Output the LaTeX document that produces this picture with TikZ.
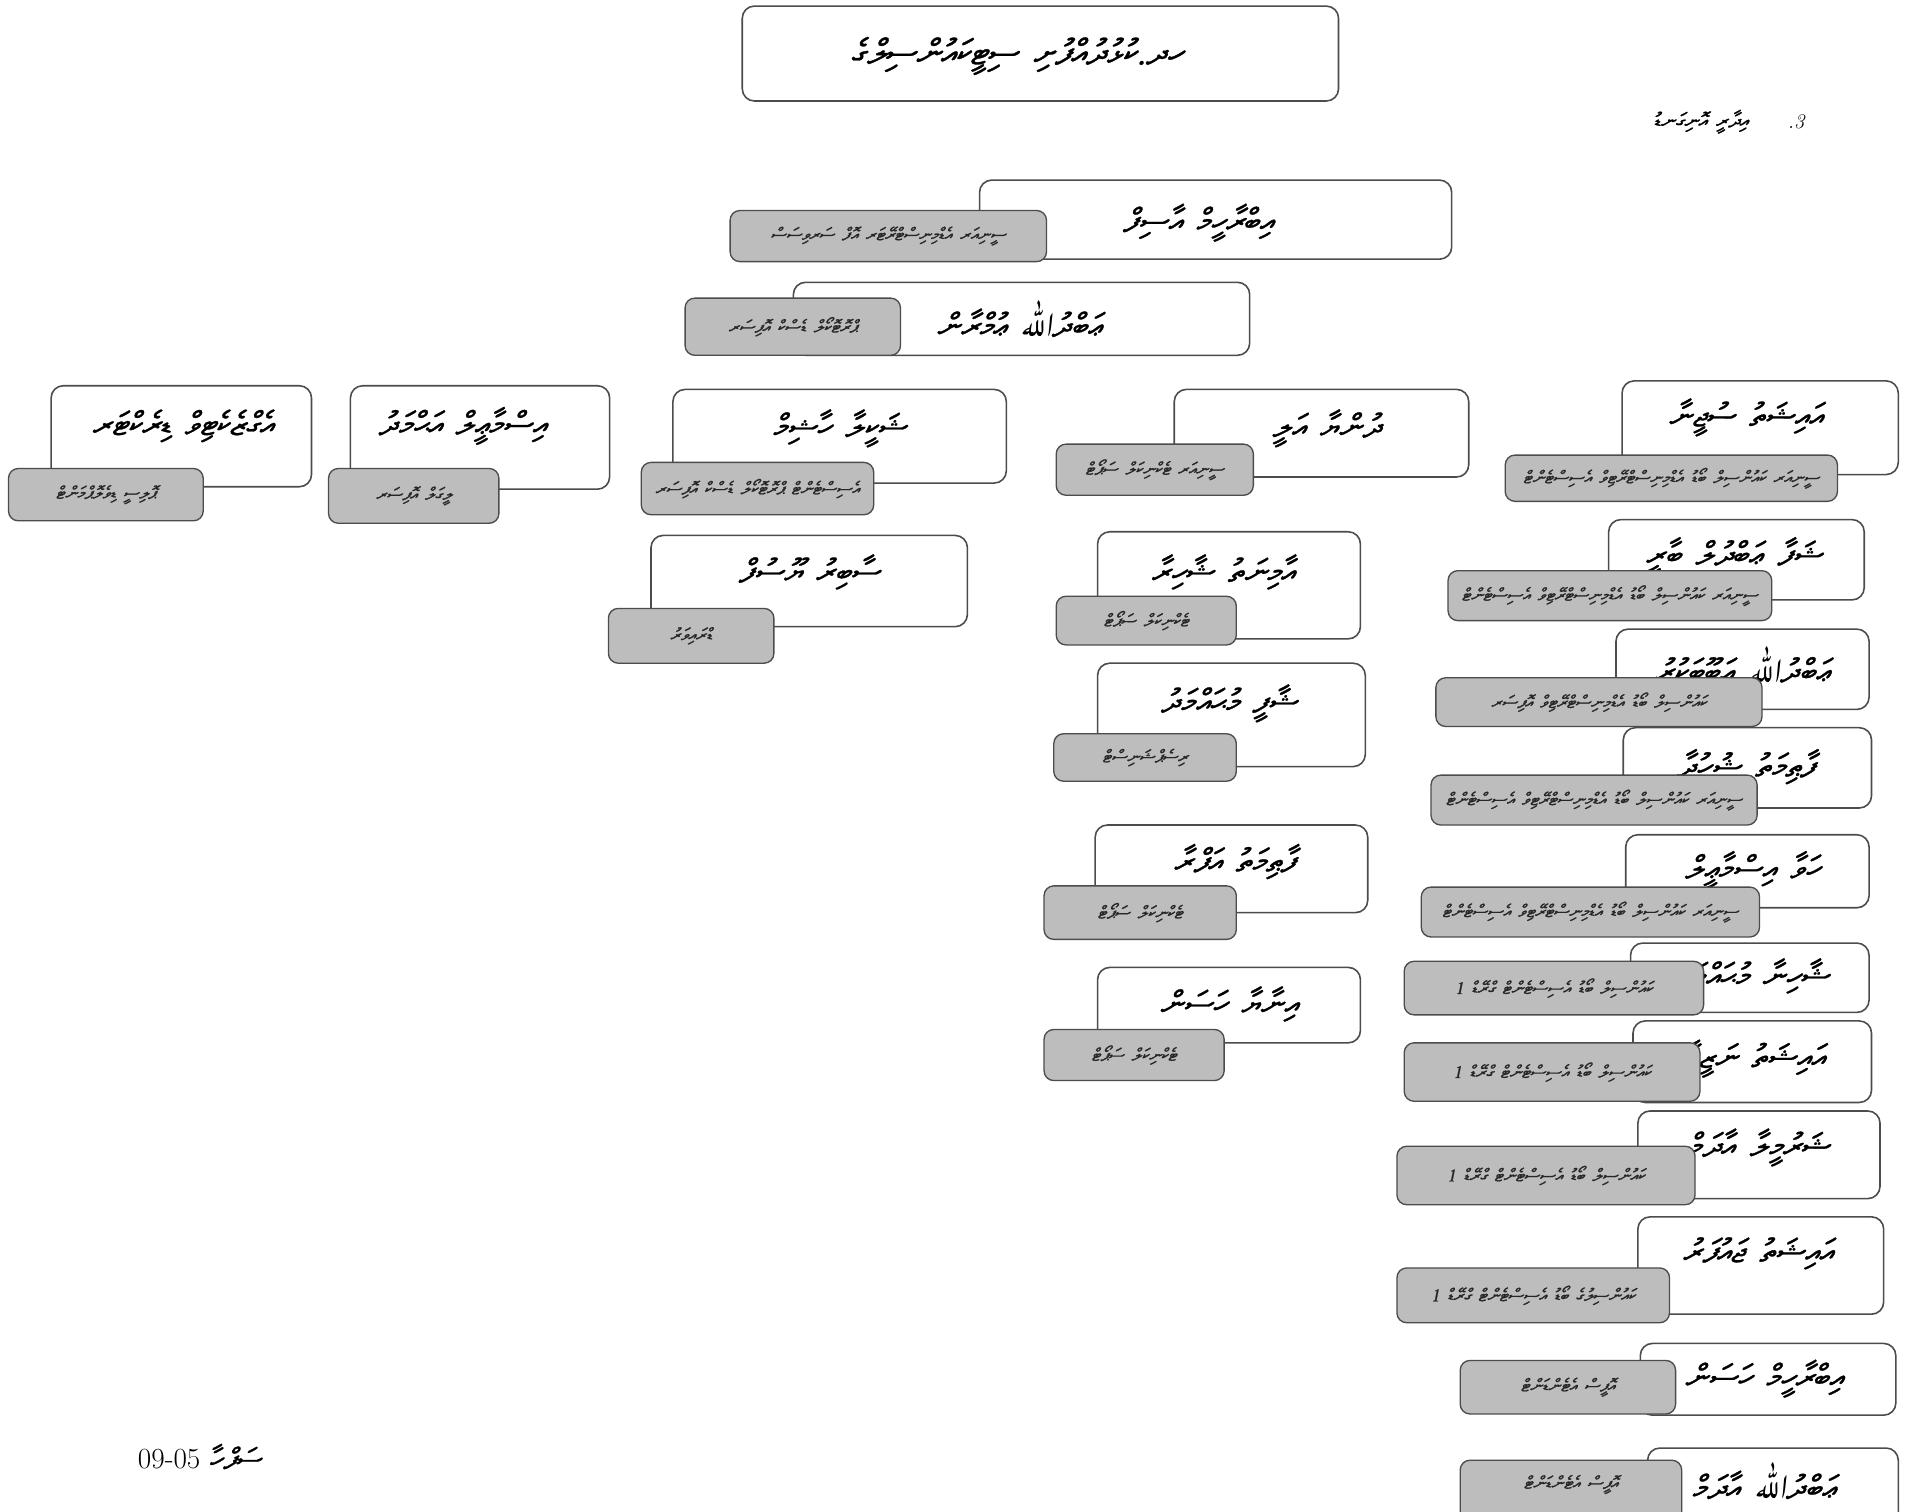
\documentclass[tikz,border=0pt]{standalone}
\usepackage{fontspec}
\usetikzlibrary{arrows.meta,backgrounds}
\TeXXeTstate=1
\IfFontExistsTF{FreeSerif}{%
  \newfontfamily\thaana[Script=Thaana,FakeSlant=0.2,FakeBold=0.9]{FreeSerif}}{%
  \IfFontExistsTF{FreeSerif.otf}{%
    \newfontfamily\thaana[Script=Thaana,FakeSlant=0.2,FakeBold=0.9]{FreeSerif.otf}}{%
    \newfontfamily\thaana[FakeSlant=0.2]{DejaVu Sans}}}
\IfFontExistsTF{Amiri-Regular.ttf}{%
  \newfontfamily\arabicfont[Script=Arabic,FakeSlant=0.2]{Amiri-Regular.ttf}
  \newcommand\allah{{\arabicfont ﷲ}}}{%
  \IfFontExistsTF{Amiri}{%
    \newfontfamily\arabicfont[Script=Arabic,FakeSlant=0.2]{Amiri}
    \newcommand\allah{{\arabicfont ﷲ}}}{%
    \newfontfamily\arabicfont[Script=Arabic,FakeSlant=0.2]{DejaVu Sans}
    \newcommand\allah{{\arabicfont الله}}}}

% Thaana runs right to left, words set apart a little
\makeatletter
\def\rtl@sep{\hspace{0.42em}}
\newcommand\rtl[1]{\beginR\rtl@a#1 \rtl@end\endR}
\def\rtl@a#1 #2\rtl@end{\mbox{\beginR#1\endR}\if\relax\detokenize{#2}\relax\else\rtl@sep\rtl@a#2\rtl@end\fi}
\makeatother

\tikzset{
  namebox/.style={draw=black!70, line width=1.3pt, rounded corners=10pt, fill=white, inner sep=0pt},
  rankbox/.style={draw=black!70, line width=1.1pt, rounded corners=8pt, fill=black!26, inner sep=0pt,
    text=black!85, font=\thaana\fontsize{14.5}{16}\selectfont},
  who/.style={inner sep=0pt, font=\thaana\fontsize{27}{30}\selectfont},
  link/.style={draw=black!65, line width=1pt},
  arr/.style={link, -{Triangle[length=13pt,width=10pt]}}
}

\begin{document}
\begin{tikzpicture}[x=1pt,y=-1pt]
\fill[white] (0,0) rectangle (1568,1242);
\clip (0,0) rectangle (1568,1242);

% top of the chart
\node[namebox, minimum width=490, minimum height=78] (top) at (855,44) {};
\node[who, font=\thaana\fontsize{29}{34}\selectfont] (topt) at (836,46) {\rtl{ހދ.ކުޅުދުއްފުށި ސިޓީކައުންސިލްގެ}};
\node[inner sep=0pt, font=\thaana\fontsize{17}{20}\selectfont] (note) at (1398,100) {\rtl{އިދާރީ އޮނިގަނޑު}};
\node[inner sep=0pt, font=\fontsize{17}{20}\selectfont\itshape] (noten) at (1476,100) {.3};

\node[namebox, minimum width=388, minimum height=65] (ibrahim) at (999,180.5) {};
\node[who] (ibrahimt) at (985,183) {\rtl{އިބްރާހީމް އާސިފް}};
\node[rankbox, minimum width=260, minimum height=42] (ibrahimr) at (730,194) {\rtl{ސީނިއަރ އެޑްމިނިސްޓްރޭޓަރ އޮފް ސަރވިސަސް}};

\node[namebox, minimum width=375, minimum height=60] (abdulla) at (839.5,262) {};
\node[who] (abdullat) at (838,262) {\rtl{ޢަބްދު\allah{} ޢުމްރާން}};
\node[rankbox, minimum width=177, minimum height=47] (abdullar) at (651.5,268.5) {\rtl{ޕްރޮޓޮކޯލް ޑެސްކް އޮފިސަރ}};

% first row
\node[namebox, minimum width=214, minimum height=83] (exec) at (149,358.5) {};
\node[who] (exect) at (150,350) {\rtl{އެގްޒެކެޓިވް ޑިރެކްޓަރ}};
\node[rankbox, minimum width=160, minimum height=43] (execr) at (87,406.5) {\rtl{ޕޮލިސީ ޑިވެލޮޕްމަންޓް}};

\node[namebox, minimum width=213, minimum height=85] (ismail) at (394.5,359.5) {};
\node[who] (ismailt) at (380,350) {\rtl{އިސްމާޢީލް އަޙްމަދު}};
\node[rankbox, minimum width=140, minimum height=45] (ismailr) at (340,407.5) {\rtl{ލީގަލް އޮފިސަރ}};

\node[namebox, minimum width=274, minimum height=77] (shakeela) at (690,358.5) {};
\node[who] (shakeelat) at (690,352) {\rtl{ޝަކީލާ ހާޝިމް}};
\node[rankbox, minimum width=191, minimum height=43] (shakeelar) at (622.5,401.5) {\rtl{އެސިސްޓެންޓް ޕްރޮޓޮކޯލް ޑެސްކް އޮފިސަރ}};

\node[namebox, minimum width=260, minimum height=75] (saabir) at (665,477.5) {};
\node[who] (saabirt) at (665,470) {\rtl{ސާބިރު ޔޫސުފް}};
\node[rankbox, minimum width=136, minimum height=45] (saabirr) at (568,522.5) {\rtl{ޑްރައިވަރު}};

% middle column
\node[namebox, minimum width=242, minimum height=72] (dhunya) at (1086,356) {};
\node[who] (dhunyat) at (1090,352) {\rtl{ދުންޔާ އަލީ}};
\node[rankbox, minimum width=162, minimum height=42] (dhunyar) at (949,386) {\rtl{ސީނިއަރ ޓެކްނިކަލް ސަޕޯޓް}};

\node[namebox, minimum width=216, minimum height=88] (aminath) at (1010,481) {};
\node[who] (aminatht) at (1005,470) {\rtl{އާމިނަތު ޝާހިރާ}};
\node[rankbox, minimum width=148, minimum height=40] (aminathr) at (942,510) {\rtl{ޓެކްނިކަލް ސަޕޯޓް}};

\node[namebox, minimum width=220, minimum height=85] (shaafee) at (1012,587.5) {};
\node[who] (shaafeet) at (1010,578) {\rtl{ޝާފީ މުޙައްމަދު}};
\node[rankbox, minimum width=150, minimum height=39] (shaafeer) at (941,622.5) {\rtl{ރިސެޕްޝަނިސްޓް}};

\node[namebox, minimum width=224, minimum height=72] (fathimath) at (1012,714) {};
\node[who] (fathimatht) at (1015,708) {\rtl{ފާޠިމަތު އަފްރާ}};
\node[rankbox, minimum width=158, minimum height=44] (fathimathr) at (937,750) {\rtl{ޓެކްނިކަލް ސަޕޯޓް}};

\node[namebox, minimum width=216, minimum height=62] (inaaya) at (1010,826) {};
\node[who] (inaayat) at (1010,825) {\rtl{އިނާޔާ ހަސަން}};
\node[rankbox, minimum width=148, minimum height=42] (inaayar) at (932,867) {\rtl{ޓެކްނިކަލް ސަޕޯޓް}};

% right column
\node[namebox, minimum width=227, minimum height=77] (aishath) at (1446.5,351.5) {};
\node[who] (aishatht) at (1435,343) {\rtl{އައިޝަތު ސުޖީނާ}};
\node[rankbox, minimum width=273, minimum height=38] (aishathr) at (1373.5,393) {\rtl{ސީނިއަރ ކައުންސިލް ބޯޑު އެޑްމިނިސްޓްރޭޓިވް އެސިސްޓެންޓް}};

\node[namebox, minimum width=210, minimum height=66] (shafaa) at (1427,460) {};
\node[who] (shafaat) at (1425,457) {\rtl{ޝަފާ ޢަބްދުލް ބާރީ}};
\node[rankbox, minimum width=266, minimum height=41] (shafaar) at (1323,489.5) {\rtl{ސީނިއަރ ކައުންސިލް ބޯޑު އެޑްމިނިސްޓްރޭޓިވް އެސިސްޓެންޓް}};

\node[namebox, minimum width=208, minimum height=66] (abubakur) at (1432,550) {};
\node[who] (abubakurt) at (1432,546) {\rtl{ޢަބްދު\allah{} ޢަބޫބަކުރު}};
\node[rankbox, minimum width=268, minimum height=40] (abubakurr) at (1314,577) {\rtl{ކައުންސިލް ބޯޑު އެޑްމިނިސްޓްރޭޓިވް އޮފިސަރ}};

\node[namebox, minimum width=204, minimum height=66] (shuhudha) at (1436,631) {};
\node[who] (shuhudhat) at (1435,630) {\rtl{ފާޠިމަތު ޝުހުދާ}};
\node[rankbox, minimum width=268, minimum height=41] (shuhudhar) at (1310,657.5) {\rtl{ސީނިއަރ ކައުންސިލް ބޯޑު އެޑްމިނިސްޓްރޭޓިވް އެސިސްޓެންޓް}};

\node[namebox, minimum width=200, minimum height=60] (hawwa) at (1436,716) {};
\node[who] (hawwat) at (1440,715) {\rtl{ހަވާ އިސްމާޢީލް}};
\node[rankbox, minimum width=278, minimum height=41] (hawwar) at (1307,749.5) {\rtl{ސީނިއަރ ކައުންސިލް ބޯޑު އެޑްމިނިސްޓްރޭޓިވް އެސިސްޓެންޓް}};

\node[namebox, minimum width=196, minimum height=57] (shaahina) at (1438,803.5) {};
\node[who] (shaahinat) at (1438,802) {\rtl{ޝާހިނާ މުޙައްމަދު}};
\node[rankbox, minimum width=246, minimum height=44] (shaahinar) at (1277,812) {\rtl{ކައުންސިލް ބޯޑު އެސިސްޓެންޓް ގްރޭޑް 1}};

\node[namebox, minimum width=196, minimum height=67] (nazeera) at (1440,872.5) {};
\node[who] (nazeerat) at (1440,870) {\rtl{އައިޝަތު ނަޒީރާ}};
\node[rankbox, minimum width=243, minimum height=48] (nazeerar) at (1275.5,881) {\rtl{ކައުންސިލް ބޯޑު އެސިސްޓެންޓް ގްރޭޑް 1}};

\node[namebox, minimum width=199, minimum height=72] (sharmeela) at (1445.5,949) {};
\node[who] (sharmeelat) at (1445,943) {\rtl{ޝަރުމީލާ އާދަމް}};
\node[rankbox, minimum width=245, minimum height=48] (sharmeelar) at (1270.5,966) {\rtl{ކައުންސިލް ބޯޑު އެސިސްޓެންޓް ގްރޭޑް 1}};

\node[namebox, minimum width=202, minimum height=80] (jaufar) at (1447,1040) {};
\node[who] (jaufart) at (1445,1030) {\rtl{އައިޝަތު ޖައުފަރު}};
\node[rankbox, minimum width=224, minimum height=45] (jaufarr) at (1260,1064.5) {\rtl{ކައުންސިލުގެ ބޯޑު އެސިސްޓެންޓް ގްރޭޑް 1}};

\node[namebox, minimum width=210, minimum height=59] (hassan) at (1453,1133.5) {};
\node[who] (hassant) at (1450,1133) {\rtl{އިބްރާހީމް ހަސަން}};
\node[rankbox, minimum width=177, minimum height=44] (hassanr) at (1288.5,1140) {\rtl{އޮފީސް އެޓެންޑަންޓް}};

\node[namebox, minimum width=206, minimum height=70] (aadham) at (1457,1225) {};
\node[who] (aadhamt) at (1450,1217) {\rtl{ޢަބްދު\allah{} އާދަމް}};
\node[rankbox, minimum width=182, minimum height=60] (aadhamr) at (1291,1230) {};
\node[inner sep=0pt, text=black!85, font=\thaana\fontsize{14.5}{16}\selectfont] (aadhamrt) at (1291,1220) {\rtl{އޮފީސް އެޓެންޑަންޓް}};

\node[inner sep=0pt, font=\fontsize{24}{28}\selectfont] (page) at (164,1197) {09-05 {\thaana\rtl{ސަފްހާ}}};

% connectors
\begin{scope}[on background layer]
\coordinate (bus) at (0,306);
\draw[arr, shorten <=5pt, shorten >=5pt] (top.south -| 843,0) -- (ibrahim.north -| 843,0);
\draw[arr] (ibrahim.south -| 1132,0) |- ([yshift=10]abdulla.east);
\draw[link] ([xshift=20]abdulla.south) -- ([xshift=20]abdulla.south |- bus);
\draw[link] ([xshift=-19]exec.north |- bus) -- ([xshift=26]aishath.north |- bus);
\foreach \n/\d in {exec/-19, ismail/-6, shakeela/-10, dhunya/-10, aishath/26}
  \draw[link] ([xshift=\d]\n.north |- bus) -- ([xshift=\d]\n.north);
\draw[link] (shakeelar.south -| 690,0) -- (saabir.north -| 690,0);
\foreach \a/\b/\x in {dhunya/aminath/1082, aminath/shaafee/1082, shaafee/fathimath/1085,
    fathimath/inaaya/1087, aishath/shafaa/1485, shafaa/abubakur/1489, abubakur/shuhudha/1493,
    shuhudha/hawwa/1491, hawwa/shaahina/1498, shaahina/nazeera/1498, nazeera/sharmeela/1501,
    jaufar/hassan/1509, hassan/aadham/1514}
  \draw[link] (\a.south -| \x,0) -- (\b.north -| \x,0);
\end{scope}
\end{tikzpicture}
\end{document}
